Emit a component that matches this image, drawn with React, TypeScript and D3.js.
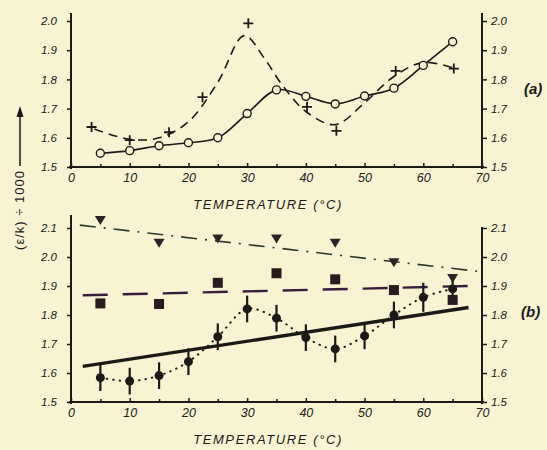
import React, { useEffect, useRef } from 'react';
import * as d3 from 'd3';

// panel (a)
const circleTemps = [5, 10, 15, 20, 25, 30, 35, 40, 45, 50, 55, 60, 65];
const circleVals = [1.547, 1.556, 1.573, 1.583, 1.6, 1.683, 1.764, 1.742, 1.716, 1.743, 1.77, 1.848, 1.929];
const plusTemps = [3.5, 10, 16.7, 22.4, 30.2, 40.2, 45.2, 55.3, 65.2];
const plusVals = [1.637, 1.592, 1.619, 1.739, 1.992, 1.706, 1.624, 1.829, 1.837];
// hand-drawn dashed guide curve
const dashTemps = [4, 10, 15, 20, 25, 29.5, 33, 36, 40, 45, 50, 55, 60, 65];
const dashVals = [1.63, 1.595, 1.6, 1.655, 1.79, 1.95, 1.87, 1.78, 1.69, 1.645, 1.72, 1.81, 1.858, 1.84];

// panel (b)
const triTemps = [5, 15, 25, 35, 45, 55, 65];
const triVals = [2.128, 2.049, 2.064, 2.064, 2.049, 1.982, 1.928];
const sqTemps = [5, 15, 25, 35, 45, 55, 65];
const sqVals = [1.84, 1.838, 1.911, 1.944, 1.923, 1.886, 1.852];
const dotTemps = [5, 10, 15, 20, 25, 30, 35, 40, 45, 50, 55, 60, 65];
const dotVals = [1.584, 1.572, 1.591, 1.639, 1.725, 1.821, 1.789, 1.722, 1.683, 1.728, 1.8, 1.861, 1.89];
const dotErr = [0.046, 0.046, 0.046, 0.046, 0.046, 0.046, 0.046, 0.046, 0.046, 0.046, 0.046, 0.05, 0.05];
const dashDotLine = [[1.5, 2.11], [69.5, 1.95]];
const longDashLine = [[2, 1.868], [68, 1.9]];
const thickLine = [[2, 1.623], [67.7, 1.826]];

const xTicks = [0, 10, 20, 30, 40, 50, 60, 70];
const xMinor = [5, 15, 25, 35, 45, 55, 65];
const yTicksA = [1.5, 1.6, 1.7, 1.8, 1.9, 2.0];
const yTicksB = [1.5, 1.6, 1.7, 1.8, 1.9, 2.0, 2.1];

const ink = '#1c1a16';
const bg = '#f8f3d3';
const font = '"Liberation Sans", Arial, sans-serif';

function App() {
  const ref = useRef(null);

  useEffect(() => {
    const svg = d3.select(ref.current);
    svg.selectAll('*').remove();

    svg.append('rect').attr('width', 547).attr('height', 450).attr('fill', bg);

    const x = d3.scaleLinear().domain([0, 70]).range([71, 482]);
    const yA = d3.scaleLinear().domain([1.5, 2.0]).range([167, 21]);
    const yB = d3.scaleLinear().domain([1.5, 2.1]).range([402, 228]);

    const styleAxis = (g, size) => {
      g.select('.domain').remove();
      g.selectAll('line').attr('stroke', ink).attr('stroke-width', 1.5);
      g.selectAll('text')
        .attr('fill', ink)
        .attr('font-family', font)
        .attr('font-style', 'italic')
        .attr('font-size', size);
    };
    const fmt = (d) => d3.format('.1f')(d);

    const drawFrame = (y, yTicks, top, rightTop, xBase) => {
      // x axis
      svg.append('g')
        .attr('transform', `translate(0,${xBase})`)
        .call(d3.axisBottom(x).tickValues(xTicks).tickSizeInner(-4).tickSizeOuter(0).tickPadding(6).tickFormat(d3.format('d')))
        .call((g) => styleAxis(g, 12.5));
      svg.append('g')
        .attr('transform', `translate(0,${xBase})`)
        .call(d3.axisBottom(x).tickValues(xMinor).tickSizeInner(-3).tickSizeOuter(0).tickFormat(() => ''))
        .call((g) => styleAxis(g, 12));
      svg.append('line').attr('x1', 69).attr('x2', 484).attr('y1', xBase).attr('y2', xBase)
        .attr('stroke', ink).attr('stroke-width', 2);
      // left axis
      svg.append('g')
        .attr('transform', 'translate(71,0)')
        .call(d3.axisLeft(y).tickValues(yTicks).tickSize(4).tickPadding(10).tickFormat(fmt))
        .call((g) => styleAxis(g, 11.5));
      svg.append('line').attr('x1', 71).attr('x2', 71).attr('y1', top).attr('y2', xBase + 2)
        .attr('stroke', ink).attr('stroke-width', 2);
      // right axis
      svg.append('g')
        .attr('transform', 'translate(482,0)')
        .call(d3.axisRight(y).tickValues(yTicks).tickSize(5).tickPadding(4).tickFormat(fmt))
        .call((g) => styleAxis(g, 11.5));
      svg.append('line').attr('x1', 482).attr('x2', 482).attr('y1', rightTop).attr('y2', xBase + 2)
        .attr('stroke', ink).attr('stroke-width', 2);
      // x title
      svg.append('text')
        .attr('x', 268).attr('y', xBase + 42)
        .attr('text-anchor', 'middle')
        .attr('font-family', font).attr('font-style', 'italic')
        .attr('font-size', 13).attr('letter-spacing', 1.6)
        .attr('fill', ink)
        .text('TEMPERATURE (°C)');
    };

    drawFrame(yA, yTicksA, 13, 13, 167);
    drawFrame(yB, yTicksB, 215, 227, 402);

    // ---- panel (a)
    const smooth = (y) => d3.line().x((d) => x(d[0])).y((d) => y(d[1])).curve(d3.curveCatmullRom.alpha(0.5));

    svg.append('path')
      .attr('d', smooth(yA)(dashTemps.map((t, i) => [t, dashVals[i]])))
      .attr('fill', 'none').attr('stroke', ink).attr('stroke-width', 1.6)
      .attr('stroke-dasharray', '9,6');

    svg.append('path')
      .attr('d', smooth(yA)(circleTemps.map((t, i) => [t, circleVals[i]])))
      .attr('fill', 'none').attr('stroke', ink).attr('stroke-width', 1.6);

    svg.append('g').selectAll('circle')
      .data(circleTemps)
      .join('circle')
      .attr('cx', (d) => x(d))
      .attr('cy', (d, i) => yA(circleVals[i]))
      .attr('r', 4)
      .attr('fill', bg).attr('stroke', ink).attr('stroke-width', 1.4);

    svg.append('g').selectAll('path')
      .data(plusTemps)
      .join('path')
      .attr('d', (d, i) => {
        const cx = x(d), cy = yA(plusVals[i]);
        return `M${cx - 5},${cy}H${cx + 5}M${cx},${cy - 5}V${cy + 5}`;
      })
      .attr('stroke', ink).attr('stroke-width', 1.8);

    // ---- panel (b)
    const straight = d3.line().x((d) => x(d[0])).y((d) => yB(d[1]));
    svg.append('path').attr('d', straight(dashDotLine))
      .attr('fill', 'none').attr('stroke', '#2c3a2a').attr('stroke-width', 1.6)
      .attr('stroke-dasharray', '16,8,2,8');
    svg.append('path').attr('d', straight(longDashLine))
      .attr('fill', 'none').attr('stroke', '#3a1c3e').attr('stroke-width', 2.4)
      .attr('stroke-dasharray', '25,15');
    svg.append('path').attr('d', straight(thickLine))
      .attr('fill', 'none').attr('stroke', ink).attr('stroke-width', 3.4);

    svg.append('path')
      .attr('d', smooth(yB)(dotTemps.map((t, i) => [t, dotVals[i]])))
      .attr('fill', 'none').attr('stroke', ink).attr('stroke-width', 2)
      .attr('stroke-linecap', 'round').attr('stroke-dasharray', '0.5,6');

    svg.append('g').selectAll('line')
      .data(dotTemps)
      .join('line')
      .attr('x1', (d) => x(d)).attr('x2', (d) => x(d))
      .attr('y1', (d, i) => yB(dotVals[i] + dotErr[i]))
      .attr('y2', (d, i) => yB(dotVals[i] - dotErr[i]))
      .attr('stroke', ink).attr('stroke-width', 2.2);

    svg.append('g').selectAll('circle')
      .data(dotTemps)
      .join('circle')
      .attr('cx', (d) => x(d))
      .attr('cy', (d, i) => yB(dotVals[i]))
      .attr('r', 4.5)
      .attr('fill', ink);

    svg.append('g').selectAll('rect')
      .data(sqTemps)
      .join('rect')
      .attr('x', (d) => x(d) - 5)
      .attr('y', (d, i) => yB(sqVals[i]) - 5)
      .attr('width', 10).attr('height', 10)
      .attr('fill', '#2a1c1e');

    svg.append('g').selectAll('path')
      .data(triTemps)
      .join('path')
      .attr('d', (d, i) => {
        const cx = x(d), cy = yB(triVals[i]);
        return `M${cx - 5.5},${cy - 4}L${cx + 5.5},${cy - 4}L${cx},${cy + 5}Z`;
      })
      .attr('fill', '#2a2422');

    // panel tags
    svg.append('text').attr('x', 524).attr('y', 94)
      .attr('font-family', font).attr('font-style', 'italic').attr('font-weight', 'bold')
      .attr('font-size', 15).attr('fill', ink).text('(a)');
    svg.append('text').attr('x', 521).attr('y', 317)
      .attr('font-family', font).attr('font-style', 'italic').attr('font-weight', 'bold')
      .attr('font-size', 15).attr('fill', ink).text('(b)');

    // y title with arrow
    svg.append('text')
      .attr('transform', 'translate(24,210) rotate(-90)')
      .attr('text-anchor', 'middle')
      .attr('font-family', font).attr('font-size', 13).attr('letter-spacing', 1)
      .attr('fill', ink)
      .text('(ε/k) ÷ 1000');
    svg.append('line').attr('x1', 20).attr('x2', 20).attr('y1', 166).attr('y2', 114)
      .attr('stroke', ink).attr('stroke-width', 1.5);
    svg.append('path').attr('d', 'M20,106L16.5,117L23.5,117Z').attr('fill', ink);
  }, []);

  return <svg ref={ref} width={547} height={450} style={{ position: 'absolute', left: 0, top: 0 }}></svg>;
}

export default App;
